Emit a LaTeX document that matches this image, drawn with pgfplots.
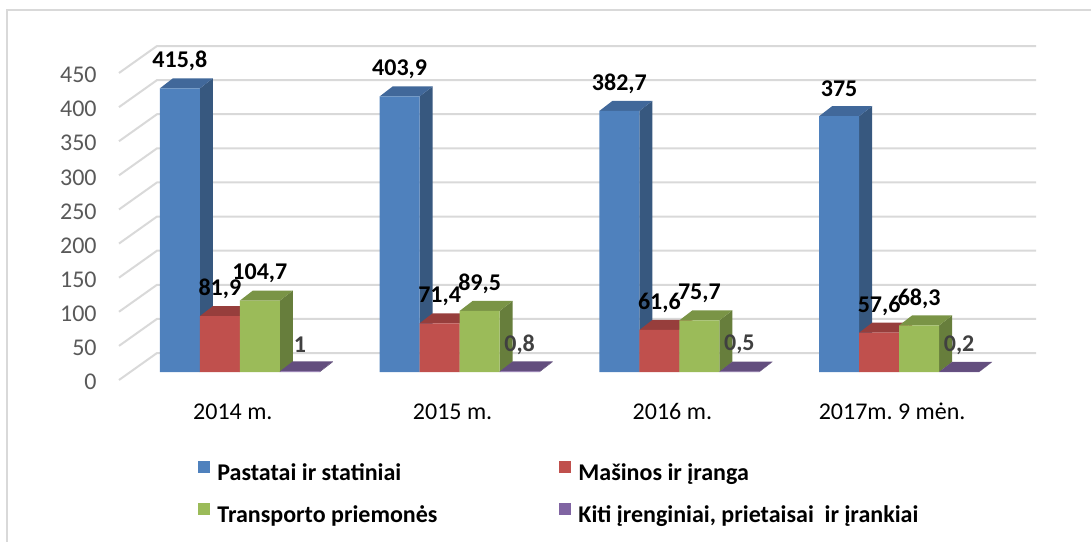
\documentclass[border=0pt]{standalone}
\usepackage{pgfplots}
\pgfplotsset{compat=1.18}
\usepackage{pgfplotstable}
\usepackage{fontspec}
\setmainfont{Carlito}

\definecolor{blueF}{HTML}{4F81BD}\definecolor{blueT}{HTML}{41689A}\definecolor{blueS}{HTML}{37587F}
\definecolor{redF}{HTML}{C0504D}\definecolor{redT}{HTML}{973E3C}\definecolor{redS}{HTML}{8A3A38}
\definecolor{greenF}{HTML}{9BBB59}\definecolor{greenT}{HTML}{7A9446}\definecolor{greenS}{HTML}{677E3C}
\definecolor{purpF}{HTML}{8064A2}\definecolor{purpT}{HTML}{634E7E}\definecolor{purpS}{HTML}{584670}
\definecolor{gridc}{HTML}{D9D9D9}
\definecolor{tickc}{HTML}{595959}
\definecolor{lblgray}{HTML}{404040}

\newcommand\fs{\fontsize{12}{14}\selectfont}

% 1 px of the reference = 0.5pt; bar 20pt wide, depth (6.5pt,5pt)
% bar height comes from the point meta (= y, mapped 1:1 with meta min 0 / max 1000)
\newcommand\mkfaces[2]{%
  \pgfdeclareplotmark{top#1}{%
    \pgfpathmoveto{\pgfpoint{#2-10pt}{0pt}}%
    \pgfpathlineto{\pgfpoint{#2+10pt}{0pt}}%
    \pgfpathlineto{\pgfpoint{#2+16.5pt}{5pt}}%
    \pgfpathlineto{\pgfpoint{#2-3.5pt}{5pt}}%
    \pgfpathclose\pgfusepathqfill}%
  \pgfdeclareplotmark{side#1}{%
    \pgfpathmoveto{\pgfpoint{#2+10pt}{0pt}}%
    \pgfpathlineto{\pgfpoint{#2+16.5pt}{5pt}}%
    \pgfpathlineto{\pgfpoint{#2+16.5pt}{5pt-\pgfplotspointmetatransformed*0.34111pt}}%
    \pgfpathlineto{\pgfpoint{#2+10pt}{-\pgfplotspointmetatransformed*0.34111pt}}%
    \pgfpathclose\pgfusepathqfill}}
\mkfaces{a}{-24.5pt}
\mkfaces{b}{-4.5pt}
\mkfaces{c}{15.5pt}
\mkfaces{d}{35.5pt}

\pgfplotstableread{
x v
0 415.8
1 403.9
2 382.7
3 375
}\pastatai
\pgfplotstableread{
x v
0 81.9
1 71.4
2 61.6
3 57.6
}\masinos
\pgfplotstableread{
x v
0 104.7
1 89.5
2 75.7
3 68.3
}\transportas
\pgfplotstableread{
x v
0 1
1 0.8
2 0.5
3 0.2
}\kiti

\pgfplotsset{
  face/.style 2 args={scatter, only marks, forget plot, mark=#1,
    point meta=y, point meta min=0, point meta max=1000,
    scatter/use mapped color={draw=none, fill=#2}},
  front/.style 2 args={ybar, bar width=20pt, bar shift=#2, draw=none, fill=#1, nodes near coords,
    every node near coord/.append style={xshift=#2},
    legend image code/.code={\fill[#1] (0pt,0pt) rectangle (6pt,6pt);}},
}

\begin{document}
\begin{tikzpicture}
\begin{axis}[
  clip marker paths=true, % marks drawn with their own plot, so the faces stack in order
  at={(0,0)}, anchor=south west,
  x=109.875pt, y=0.34111pt,
  xmin=-0.5, xmax=3.5, ymin=0, ymax=450,
  axis line style={draw=none}, major tick length=0pt,
  clip=false,
  ytick={0,50,...,450},
  xtick={0,1,2,3},
  xticklabels={2014 m., 2015 m., 2016 m., 2017m.\ 9 mėn.},
  yticklabel style={font=\fs, text=tickc, anchor=east, inner sep=0pt, xshift=-11pt, yshift=-5pt},
  xticklabel style={font=\fs, anchor=center, inner sep=0pt, xshift=2pt, yshift=-19.75pt},
  /pgf/number format/assume math mode=true,
  /pgf/number format/use comma,
  /pgf/number format/1000 sep={},
  every node near coord/.append style={font=\bfseries\fs, anchor=center, inner sep=0pt, yshift=13.5pt, text=black},
  legend columns=2,
  legend cell align=left,
  legend style={at={(0.0899,-0.29)}, anchor=north west, draw=none, fill=none,
    font=\bfseries\fs, inner sep=0pt, nodes={inner sep=0pt},
    /tikz/column sep=0pt, row sep=10pt},
]
% back wall and floor edge
\pgfplotsinvokeforeach{0,50,...,450}{
  \draw[gridc, line width=1pt] ([yshift=-4pt]axis cs:-0.5,#1) -- ([xshift=19pt,yshift=9.5pt]axis cs:-0.5,#1) -- ([xshift=19pt,yshift=9.5pt]axis cs:3.5,#1);
}

\addplot[face={sidea}{blueS}] table[x=x,y=v]{\pastatai};
\addplot[face={topa}{blueT}] table[x=x,y=v]{\pastatai};
\addplot[front={blueF}{-24.5pt}] table[x=x,y=v]{\pastatai};
\addlegendentry{\makebox[174.5pt][l]{\hspace{3.5pt}Pastatai ir statiniai}}

\addplot[face={sideb}{redS}] table[x=x,y=v]{\masinos};
\addplot[face={topb}{redT}] table[x=x,y=v]{\masinos};
\addplot[front={redF}{-4.5pt}] table[x=x,y=v]{\masinos};
\addlegendentry{\hspace{3.5pt}Mašinos ir įranga}

\addplot[face={sidec}{greenS}] table[x=x,y=v]{\transportas};
\addplot[face={topc}{greenT}] table[x=x,y=v]{\transportas};
\addplot[front={greenF}{15.5pt}] table[x=x,y=v]{\transportas};
\addlegendentry{\makebox[174.5pt][l]{\hspace{3.5pt}Transporto priemonės}}

\addplot[face={sided}{purpS}] table[x=x,y=v]{\kiti};
\addplot[face={topd}{purpT}] table[x=x,y=v]{\kiti};
\addplot[front={purpF}{35.5pt}, every node near coord/.append style={text=lblgray}] table[x=x,y=v]{\kiti};
\addlegendentry{\hspace{3.5pt}Kiti įrenginiai, prietaisai \ ir įrankiai}
\end{axis}
\draw[gridc, line width=0.6pt] (-56pt,-90pt) -- (-56pt,181pt) -- (490pt,181pt);
\pgfresetboundingbox
\path[use as bounding box] (-59.5pt,-84.5pt) rectangle (486pt,186pt);
\end{tikzpicture}
\end{document}
